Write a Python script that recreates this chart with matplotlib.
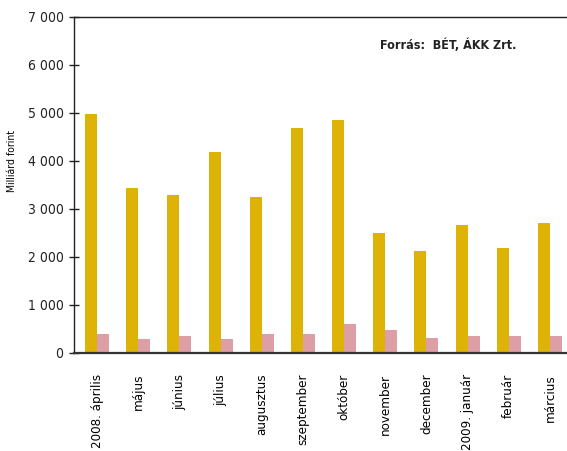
import matplotlib
matplotlib.use("Agg")
import matplotlib.pyplot as plt
import numpy as np
from matplotlib.ticker import FuncFormatter
from matplotlib import font_manager

categories = ["2008. április", "május", "június", "július", "augusztus", "szeptember",
              "október", "november", "december", "2009. január", "február", "március"]
series_a = [4980, 3440, 3290, 4190, 3250, 4690, 4850, 2500, 2130, 2670, 2190, 2710]
series_b = [400, 295, 355, 295, 400, 400, 605, 480, 315, 355, 355, 355]

# look for a condensed font file
cond = None
cond_bold = None
for f in font_manager.fontManager.ttflist:
    fn = f.fname.lower()
    if ('condensed' in fn or 'narrow' in fn) and 'oblique' not in fn and 'italic' not in fn:
        if 'bold' in fn:
            if cond_bold is None or 'dejavusans' in fn:
                cond_bold = f.fname
        else:
            if cond is None or 'dejavusanscondensed.ttf' in fn:
                cond = f.fname

if cond:
    fp = lambda size: font_manager.FontProperties(fname=cond, size=size)
    scale = 1.0
else:
    fp = lambda size: font_manager.FontProperties(family='DejaVu Sans', size=size)
    scale = 0.8
if cond_bold:
    fpb = font_manager.FontProperties(fname=cond_bold, size=9)
else:
    fpb = font_manager.FontProperties(family='DejaVu Sans', weight='bold', size=8)

fig = plt.figure(figsize=(5.67, 4.51), dpi=100)
ax = fig.add_axes([74/567, 1-353/451, (566-74)/567, (353-17)/451])

x = np.arange(len(categories))
w = 0.29
ax.bar(x - w/2, series_a, width=w, color='#DDB308', zorder=2)
ax.bar(x + w/2, series_b, width=w, color='#DE9EA5', zorder=2)

ax.set_xlim(-0.56, 11.39)
ax.set_ylim(0, 7000)
ax.set_yticks(range(0, 7001, 1000))
ax.yaxis.set_major_formatter(FuncFormatter(lambda v, p: f"{int(v):,}".replace(",", " ")))
ax.set_xticks(x)
ax.set_xticklabels(categories, rotation=90)
for lab in ax.get_xticklabels():
    lab.set_fontproperties(fp(9.5 * scale))
for lab in ax.get_yticklabels():
    lab.set_fontproperties(fp(10 * scale))
ax.tick_params(axis='x', length=0, pad=15)
ax.tick_params(axis='y', direction='inout', length=7, width=1, pad=4, colors='#222222')

for s in ['left', 'top']:
    ax.spines[s].set_color('#222222')
    ax.spines[s].set_linewidth(1)
ax.spines['right'].set_visible(False)
ax.spines['bottom'].set_color('#333333')
ax.spines['bottom'].set_linewidth(1.6)

ax.set_ylabel("Milliárd forint", fontproperties=fp(7.5 * scale))
ax.yaxis.set_label_coords((17 - 74) / 492, (353 - 161) / 336)
ax.text(0.90, 0.915, "Forrás:  BÉT, ÁKK Zrt.", transform=ax.transAxes,
        ha='right', va='center', fontproperties=fpb, color='#222222')

fig.savefig("out.png", dpi=100)
